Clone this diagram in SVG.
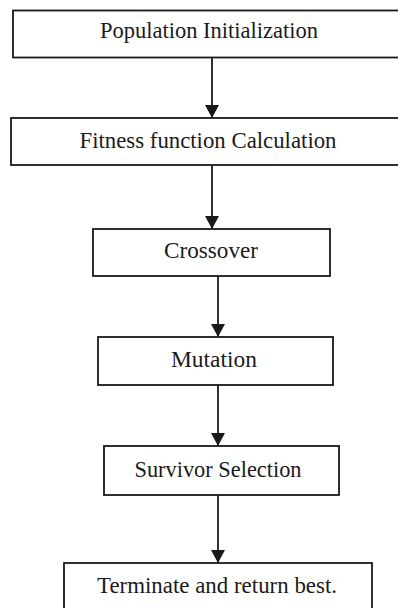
<svg xmlns="http://www.w3.org/2000/svg" width="398" height="608" viewBox="0 0 398 608">
<defs>
<style>
.box{fill:#fff;stroke:#1a1a1a;stroke-width:1.8}
.lbl{font-family:"Liberation Serif","Times New Roman",serif;font-size:22.5px;fill:#1a1a1a;text-anchor:middle}
.conn{stroke:#1a1a1a;stroke-width:1.8;fill:none}
</style>
<marker id="arr" markerUnits="userSpaceOnUse" markerWidth="16" markerHeight="16" viewBox="0 0 16 16" refX="14" refY="8" orient="auto">
<path d="M1,1 L14,8 L1,15 Z" fill="#1a1a1a"/>
</marker>
</defs>
<rect width="398" height="608" fill="#fff"/>
<g id="n1"><rect class="box" x="13" y="10.5" width="400" height="47"/><text class="lbl" x="209" y="38" textLength="218" lengthAdjust="spacingAndGlyphs">Population Initialization</text></g>
<g id="n2"><rect class="box" x="11" y="118" width="400" height="47"/><text class="lbl" x="208" y="148" textLength="257" lengthAdjust="spacingAndGlyphs">Fitness function Calculation</text></g>
<g id="n3"><rect class="box" x="93" y="229" width="237" height="47"/><text class="lbl" x="211" y="258" textLength="94" lengthAdjust="spacingAndGlyphs">Crossover</text></g>
<g id="n4"><rect class="box" x="98" y="337" width="235" height="48"/><text class="lbl" x="214" y="367" textLength="86" lengthAdjust="spacingAndGlyphs">Mutation</text></g>
<g id="n5"><rect class="box" x="104" y="446" width="235" height="49"/><text class="lbl" x="218" y="477" textLength="167" lengthAdjust="spacingAndGlyphs">Survivor Selection</text></g>
<g id="n6"><rect class="box" x="64" y="563" width="308" height="60"/><text class="lbl" x="217" y="593" textLength="240" lengthAdjust="spacingAndGlyphs">Terminate and return best.</text></g>
<g id="connectors">
<line class="conn" x1="212" y1="57.5" x2="212" y2="118" marker-end="url(#arr)"/>
<line class="conn" x1="212" y1="165" x2="212" y2="229" marker-end="url(#arr)"/>
<line class="conn" x1="218" y1="276" x2="218" y2="337" marker-end="url(#arr)"/>
<line class="conn" x1="218" y1="385" x2="218" y2="446" marker-end="url(#arr)"/>
<line class="conn" x1="218" y1="495" x2="218" y2="563" marker-end="url(#arr)"/>
</g>
</svg>
